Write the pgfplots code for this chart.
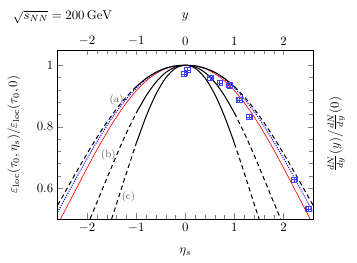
\documentclass[border=0pt]{standalone}
\usepackage{pgfplots}
\pgfplotsset{compat=1.18}
\begin{document}
\begin{tikzpicture}
\pgfplotsset{every axis/.append style={scale only axis, width=199.5pt, height=132pt,
  xmin=-2.6, xmax=2.6, ymin=0.5, ymax=1.05, xtick={-2,-1,0,1,2}, ytick={0.6,0.8,1},
  minor x tick num=4, minor y tick num=4, tick align=inside}}
\begin{axis}[name=main, xtick pos=bottom, ytick pos=left, clip mode=individual,
  xlabel={$\eta_s$}, xlabel shift=5pt, ylabel shift=6pt,
  ylabel={$\varepsilon_{\mathrm{loc}}(\tau_0,\eta_s)/\varepsilon_{\mathrm{loc}}(\tau_0,0)$}]
% red solid
\addplot[red, line width=0.5pt, smooth] coordinates {
(-2.6,0.4820) (-2.4,0.5430) (-2.2,0.6048) (-2.0,0.6659) (-1.8,0.7251) (-1.6,0.7810) (-1.4,0.8323) (-1.2,0.8780) (-1.0,0.9170) (-0.8,0.9487) (-0.6,0.9726) (-0.4,0.9888) (-0.2,0.9976) (0,1)
(0.2,0.9976) (0.4,0.9888) (0.6,0.9726) (0.8,0.9487) (1.0,0.9170) (1.2,0.8780) (1.4,0.8323) (1.6,0.7810) (1.8,0.7251) (2.0,0.6659) (2.2,0.6048) (2.4,0.5430) (2.6,0.4820)};
% blue dotted
\addplot[blue, thick, densely dotted, smooth] coordinates {
(-2.6,0.5223) (-2.4,0.5808) (-2.2,0.6392) (-2.0,0.6964) (-1.8,0.7512) (-1.6,0.8025) (-1.4,0.8493) (-1.2,0.8907) (-1.0,0.9258) (-0.8,0.9542) (-0.6,0.9756) (-0.4,0.9900) (-0.2,0.9979) (0,1)
(0.2,0.9979) (0.4,0.9900) (0.6,0.9756) (0.8,0.9542) (1.0,0.9258) (1.2,0.8907) (1.4,0.8493) (1.6,0.8025) (1.8,0.7512) (2.0,0.6964) (2.2,0.6392) (2.4,0.5808) (2.6,0.5223)};
% curve (a)
\addplot[black, thick, smooth] coordinates {
(-1.0,0.9304) (-0.8,0.9571) (-0.6,0.9772) (-0.4,0.9907) (-0.2,0.9980) (0,1) (0.2,0.9980) (0.4,0.9907) (0.6,0.9772) (0.8,0.9571) (1.0,0.9304)};
\addplot[black, thick, dash pattern=on 3.5pt off 2.5pt, smooth] coordinates {
(-2.6,0.5445) (-2.4,0.6013) (-2.2,0.6578) (-2.0,0.7128) (-1.8,0.7651) (-1.6,0.8139) (-1.4,0.8582) (-1.2,0.8973) (-1.0,0.9304)};
\addplot[black, thick, dash pattern=on 3.5pt off 2.5pt, smooth] coordinates {
(1.0,0.9304) (1.2,0.8973) (1.4,0.8582) (1.6,0.8139) (1.8,0.7651) (2.0,0.7128) (2.2,0.6578) (2.4,0.6013) (2.6,0.5445)};
% curve (b)
\addplot[black, thick, smooth] coordinates {
(-1.0,0.8445) (-0.8,0.9002) (-0.6,0.9447) (-0.4,0.9763) (-0.2,0.9945) (0,1) (0.2,0.9945) (0.4,0.9763) (0.6,0.9447) (0.8,0.9002) (1.0,0.8445)};
\addplot[black, thick, dash pattern=on 3.5pt off 2.5pt, smooth] coordinates {
(-2.0,0.4773) (-1.8,0.5538) (-1.6,0.6313) (-1.4,0.7075) (-1.2,0.7794) (-1.0,0.8445)};
\addplot[black, thick, dash pattern=on 3.5pt off 2.5pt, smooth] coordinates {
(1.0,0.8445) (1.2,0.7794) (1.4,0.7075) (1.6,0.6313) (1.8,0.5538) (2.0,0.4773)};
% curve (c)
\addplot[black, thick, smooth] coordinates {
(-1.0,0.7457) (-0.8,0.8329) (-0.6,0.9054) (-0.4,0.9588) (-0.2,0.9904) (0,1) (0.2,0.9904) (0.4,0.9588) (0.6,0.9054) (0.8,0.8329) (1.0,0.7457)};
\addplot[black, thick, dash pattern=on 3.5pt off 2.5pt, smooth] coordinates {
(-1.6,0.4517) (-1.4,0.5494) (-1.2,0.6493) (-1.0,0.7457)};
\addplot[black, thick, dash pattern=on 3.5pt off 2.5pt, smooth] coordinates {
(1.0,0.7457) (1.2,0.6493) (1.4,0.5494) (1.6,0.4517)};
% data
\addplot[blue!75, only marks, mark=square, mark size=2pt,
  error bars/.cd, x dir=both, x explicit, y dir=both, y explicit] coordinates {
(-0.03,0.972) +- (0.06,0.008)
(0.04,0.984) +- (0.06,0.008)
(0.50,0.960) +- (0.06,0.008)
(0.70,0.943) +- (0.06,0.008)
(0.90,0.935) +- (0.06,0.008)
(1.10,0.887) +- (0.06,0.008)
(1.30,0.831) +- (0.06,0.008)
(2.21,0.628) +- (0.06,0.008)
(2.51,0.532) +- (0.06,0.008)};
\node[font=\footnotesize, text=black!65] at (axis cs:-1.40,0.886) {(a)};
\node[font=\footnotesize, text=black!65] at (axis cs:-1.57,0.707) {(b)};
\node[font=\footnotesize, text=black!65] at (axis cs:-1.16,0.571) {(c)};
\end{axis}
\begin{axis}[axis x line*=top, axis y line*=right, yticklabels={},
  xlabel={$y$}, xlabel shift=5pt, ylabel shift=1pt,
  ylabel={$\frac{dN}{dy}(y)\big/\frac{dN}{dy}(0)$}]
\end{axis}
\node[anchor=base west] at ([xshift=-38.5pt,yshift=23.5pt]main.north west) {$\sqrt{s_{NN}}=200\,\mathrm{GeV}$};
\path[use as bounding box] ([xshift=-45.1pt,yshift=39pt]main.north west) rectangle ([xshift=34.4pt,yshift=-34.4pt]main.south east);
\end{tikzpicture}
\end{document}
